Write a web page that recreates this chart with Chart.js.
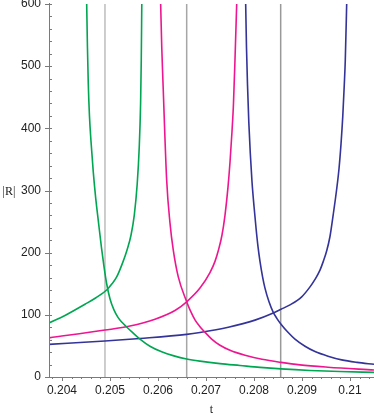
<!DOCTYPE html>
<html>
<head>
<meta charset="utf-8">
<script src="https://cdn.jsdelivr.net/npm/chart.js@4.4.1/dist/chart.umd.min.js"></script>
<style>
html,body{margin:0;padding:0;background:#fff;}
#wrap{position:relative;width:374px;height:415px;}
</style>
</head>
<body>
<div id="wrap"><canvas id="c" width="374" height="415"></canvas></div>
<script>
// ---- data ----
const g1T = [0.203729, 0.204063, 0.204479, 0.204708, 0.204931, 0.205042, 0.205140, 0.205265, 0.205354, 0.205438, 0.205506, 0.205567, 0.205610, 0.205638, 0.205652, 0.205663];
const g1R = [87, 99, 117, 127.5, 140, 150, 161, 184, 204, 228, 260, 310, 370, 440, 510, 600];

const g2T = [0.204515, 0.204531, 0.204548, 0.204573, 0.204604, 0.204652, 0.204704, 0.204756, 0.204823, 0.204875, 0.204931, 0.205000, 0.205083, 0.205167, 0.205250, 0.205348, 0.205479, 0.205625, 0.205833, 0.206077, 0.206333, 0.206598, 0.206875, 0.207292, 0.207708, 0.208125, 0.208563, 0.209167, 0.209792, 0.2105];
const g2R = [600, 530, 472, 420, 380, 330, 287, 252, 208, 178, 150, 126, 108, 96, 88, 80.5, 71, 61, 49.5, 40.5, 34, 29, 25.5, 21.5, 18.5, 15.5, 13, 10.5, 8.8, 7.5];

const m1T = [0.203729, 0.204896, 0.205417, 0.205938, 0.206354, 0.206598, 0.206875, 0.207083, 0.207188, 0.207256, 0.207333, 0.207396, 0.207458, 0.207500, 0.207542, 0.207573, 0.207604, 0.207640];
const m1R = [63, 75.5, 82, 93, 107, 121, 143, 168, 186, 203, 228, 260, 305, 345, 395, 440, 510, 600];

const m2T = [0.206056, 0.206079, 0.206110, 0.206181, 0.206250, 0.206319, 0.206423, 0.206598, 0.206667, 0.206771, 0.206875, 0.206979, 0.207119, 0.207292, 0.207500, 0.207813, 0.208167, 0.208563, 0.208958, 0.209542, 0.2105];
const m2R = [600, 530, 462, 317, 248, 204, 161, 121, 108, 92, 81, 72, 61, 51, 43, 35, 28.5, 23.5, 19.5, 15.8, 11.3];

const b1T = [0.203729, 0.204896, 0.205625, 0.206598, 0.206875, 0.207465, 0.208021, 0.208402, 0.208563, 0.208750, 0.208994, 0.209167, 0.209271, 0.209375, 0.209444, 0.209515, 0.209583, 0.209652, 0.209719, 0.209771, 0.209813, 0.209850, 0.209881, 0.209902, 0.209931];
const b1R = [52.5, 58, 62, 68.5, 71.5, 80, 91.5, 103, 109, 116, 129, 145, 157, 172, 186, 203, 226, 262, 300, 335, 375, 420, 470, 510, 600];

const b2T = [0.207827, 0.207844, 0.207865, 0.207892, 0.207923, 0.207958, 0.208000, 0.208042, 0.208083, 0.208125, 0.208177, 0.208229, 0.208313, 0.208402, 0.208479, 0.208563, 0.208708, 0.208854, 0.209063, 0.209271, 0.209542, 0.209827, 0.210146, 0.2105];
const b2R = [600, 530, 470, 410, 360, 315, 275, 240, 210, 186, 162, 143, 121, 104, 94, 85, 72, 61, 49.5, 41, 33.5, 27.5, 23.5, 20.4];

const vLinesT = [0.204896, 0.206598, 0.208556];

const xTicks = [0.204, 0.205, 0.206, 0.207, 0.208, 0.209, 0.21];
const xTickLabels = ['0.204', '0.205', '0.206', '0.207', '0.208', '0.209', '0.21'];
const yTicks = [0, 100, 200, 300, 400, 500, 600];
const yTickLabels = ['0', '100', '200', '300', '400', '500', '600'];
const xMin = 0.20373, xMax = 0.2105, yMin = 0, yMax = 600;
const xTitle = 't';
const yTitle = '|R|';

// ---- build ----
const pts = (T, R) => T.map((t, i) => ({x: t, y: R[i]}));
const GREEN = '#00a651', MAGENTA = '#ee1690', BLUE = '#333399';
function curve(T, R, col) {
  return {data: pts(T, R), borderColor: col, borderWidth: 1.6, pointRadius: 0, showLine: true,
          fill: false, cubicInterpolationMode: 'monotone'};
}
const datasets = [
  curve(g1T, g1R, GREEN), curve(g2T, g2R, GREEN),
  curve(m1T, m1R, MAGENTA), curve(m2T, m2R, MAGENTA),
  curve(b1T, b1R, BLUE), curve(b2T, b2R, BLUE)
];
const vCols = ['#bdbdbd', '#a6a6a6', '#999999'];
vLinesT.forEach((t, i) => datasets.push({data: [{x: t, y: yMin}, {x: t, y: yMax}], borderColor: vCols[i],
  borderWidth: 1.5, pointRadius: 0, showLine: true, fill: false}));

const axisPlugin = {
  id: 'axes',
  afterDraw(chart) {
    const {ctx, chartArea: a, scales: {x, y}} = chart;
    ctx.save();
    ctx.strokeStyle = '#7a7a7a';
    ctx.lineWidth = 1;
    ctx.beginPath();
    ctx.moveTo(a.left + 0.5, a.top - 1); ctx.lineTo(a.left + 0.5, a.bottom + 0.5);
    ctx.lineTo(a.right, a.bottom + 0.5);
    for (let v = yMin; v <= yMax + 1e-9; v += 20) {
      const py = Math.round(y.getPixelForValue(v)) + 0.5;
      const major = Math.abs(v % 100) < 1e-6;
      ctx.moveTo(a.left + (major ? -4 : 0), py); ctx.lineTo(a.left + 3, py);
    }
    for (let k = 0; k <= 40; k++) {
      const v = 0.2036 + k * 0.0002;
      if (v < xMin || v > xMax) continue;
      const px = Math.round(x.getPixelForValue(v)) + 0.5;
      const major = Math.abs(Math.round(v * 1000) - v * 1000) < 1e-6;
      ctx.moveTo(px, a.bottom); ctx.lineTo(px, a.bottom + (major ? 4 : 2));
    }
    ctx.stroke();
    ctx.fillStyle = '#222';
    ctx.font = '12px "Liberation Serif", "DejaVu Serif", serif';
    ctx.textAlign = 'center'; ctx.textBaseline = 'middle';
    ctx.fillText(yTitle, 9, (a.top + a.bottom) / 2 + 1);
    ctx.fillText(xTitle, (a.left + a.right) / 2, 410);
    ctx.restore();
  }
};

new Chart(document.getElementById('c'), {
  type: 'scatter',
  data: {datasets},
  options: {
    responsive: false, animation: false,
    layout: {padding: {top: 4, right: 0, left: 0, bottom: 0}},
    plugins: {legend: {display: false}, tooltip: {enabled: false}},
    scales: {
      x: {type: 'linear', min: xMin, max: xMax,
        grid: {display: false, drawTicks: false}, border: {display: false},
        afterBuildTicks: s => { s.ticks = xTicks.map(v => ({value: v})); },
        afterFit: s => { s.height = 38; s.paddingLeft = 0; s.paddingRight = 0; },
        ticks: {padding: 6, color: '#222', maxRotation: 0, autoSkip: false,
          font: {family: '"Liberation Sans", Arial, sans-serif', size: 12},
          callback: (v, i) => xTickLabels[i]}
      },
      y: {type: 'linear', min: yMin, max: yMax,
        grid: {display: false, drawTicks: false}, border: {display: false},
        afterBuildTicks: s => { s.ticks = yTicks.map(v => ({value: v})); },
        afterFit: s => { s.width = 49; s.paddingTop = 0; s.paddingBottom = 0; },
        ticks: {padding: 8, color: '#222', autoSkip: false,
          font: {family: '"Liberation Sans", Arial, sans-serif', size: 12},
          callback: (v, i) => yTickLabels[i]}
      }
    }
  },
  plugins: [axisPlugin]
});
</script>
</body>
</html>
